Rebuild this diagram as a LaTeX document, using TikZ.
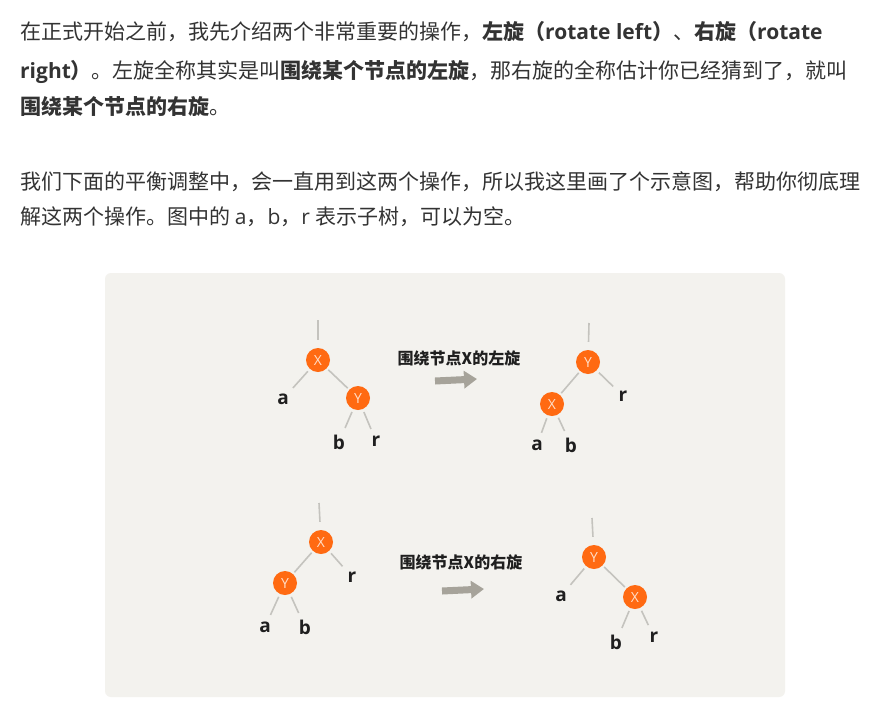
\documentclass[tikz,border=0pt]{standalone}
\usepackage{fontspec}
\setmainfont{Open Sans}
\newfontfamily\cjk{Noto Sans CJK SC}
\newfontfamily\lat{Open Sans}
\usetikzlibrary{arrows.meta}
\definecolor{txt}{HTML}{333333}
\definecolor{panel}{HTML}{F3F2EE}
\definecolor{org}{RGB}{255,106,18}
\definecolor{peach}{RGB}{255,222,200}
\definecolor{edgegray}{RGB}{196,195,190}
\definecolor{arrowgray}{RGB}{166,163,154}
\tikzset{
  para/.style={anchor=base west, inner sep=0pt, text=txt, font=\fontsize{21}{21}\selectfont},
  rb/.style={circle, fill=org, minimum size=24pt, inner sep=0pt, text=peach, font=\lat\fontsize{14}{14}\selectfont},
  leaf/.style={inner sep=1pt, text=black!88, font=\lat\bfseries\fontsize{19}{19}\selectfont},
  tedge/.style={draw=edgegray, line width=1.6pt, shorten <=2pt, shorten >=2pt},
  ledge/.style={draw=edgegray, line width=1.6pt, shorten <=3pt, shorten >=6pt},
  stub/.style={draw=edgegray, line width=1.6pt, shorten >=8pt},
  captext/.style={inner sep=0pt, text=black!88, font=\cjk\bfseries\fontsize{16}{16}\selectfont},
  bigarrow/.style={draw=arrowgray, line width=7pt, -{Triangle[length=13pt,width=17pt]}}
}
\begin{document}
\begin{tikzpicture}[x=1pt,y=-1pt]
\useasboundingbox (0,0) rectangle (884,718);
\fill[white] (0,0) rectangle (884,718);

% text paragraphs
\node[para] (p1) at (20,39) {\cjk 在正式开始之前，我先介绍两个非常重要的操作，{\bfseries 左旋（{\lat rotate left}）}、{\bfseries 右旋（{\lat rotate}}};
\node[para] (p2) at (20,78) {{\lat\bfseries right}{\cjk\bfseries ）}{\cjk 。左旋全称其实是叫}{\cjk\bfseries 围绕某个节点的左旋}{\cjk ，那右旋的全称估计你已经猜到了，就叫}};
\node[para] (p3) at (20,114) {{\cjk\bfseries 围绕某个节点的右旋}{\cjk 。}};
\node[para] (p4) at (20,189) {\cjk 我们下面的平衡调整中，会一直用到这两个操作，所以我这里画了个示意图，帮助你彻底理};
\node[para] (p5) at (20,224) {{\cjk 解这两个操作。图中的 }{\lat a}{\cjk ，}{\lat b}{\cjk ，}{\lat r }{\cjk 表示子树，可以为空。}};

% panel
\fill[panel, rounded corners=6pt] (105,273) rectangle (785,697);

% ---- tree 1 (before left rotation)
\coordinate (t1) at (318,320);
\node[rb] (X1) at (318,360) {X};
\node[rb] (Y1) at (358,398) {Y};
\node[leaf] (a1) at (283,399) {a};
\node[leaf] (b1) at (339,442) {b};
\node[leaf] (r1) at (376,441) {r};
\draw[stub] (t1) -- (X1);
\draw[tedge] (X1) -- (Y1);
\draw[ledge] (X1) -- (a1);
\draw[ledge] (Y1) -- (b1);
\draw[ledge] (Y1) -- (r1);

\node[captext] (c1) at (459,358) {围绕节点X的左旋};
\coordinate (s1) at (435,381);
\coordinate (e1) at (477,379);
\draw[bigarrow] (s1) -- (e1);

% ---- tree 2 (after left rotation)
\coordinate (t2) at (589,323);
\node[rb] (Y2) at (588,362) {Y};
\node[rb] (X2) at (552,404) {X};
\node[leaf] (r2) at (623,396) {r};
\node[leaf] (a2) at (537,445) {a};
\node[leaf] (b2) at (571,445) {b};
\draw[stub] (t2) -- (Y2);
\draw[tedge] (Y2) -- (X2);
\draw[ledge] (Y2) -- (r2);
\draw[ledge] (X2) -- (a2);
\draw[ledge] (X2) -- (b2);

% ---- tree 3 (before right rotation)
\coordinate (t3) at (319,503);
\node[rb] (X3) at (321,542) {X};
\node[rb] (Y3) at (285,583) {Y};
\node[leaf] (r3) at (352,577) {r};
\node[leaf] (a3) at (265,627) {a};
\node[leaf] (b3) at (305,627) {b};
\draw[stub] (t3) -- (X3);
\draw[tedge] (X3) -- (Y3);
\draw[ledge] (X3) -- (r3);
\draw[ledge] (Y3) -- (a3);
\draw[ledge] (Y3) -- (b3);

\node[captext] (c2) at (461,562) {围绕节点X的右旋};
\coordinate (s2) at (442,591);
\coordinate (e2) at (484,589);
\draw[bigarrow] (s2) -- (e2);

% ---- tree 4 (after right rotation)
\coordinate (t4) at (592,518);
\node[rb] (Y4) at (594,557) {Y};
\node[rb] (X4) at (635,597) {X};
\node[leaf] (a4) at (561,596) {a};
\node[leaf] (b4) at (616,642) {b};
\node[leaf] (r4) at (654,637) {r};
\draw[stub] (t4) -- (Y4);
\draw[tedge] (Y4) -- (X4);
\draw[ledge] (Y4) -- (a4);
\draw[ledge] (X4) -- (b4);
\draw[ledge] (X4) -- (r4);
\end{tikzpicture}
\end{document}
